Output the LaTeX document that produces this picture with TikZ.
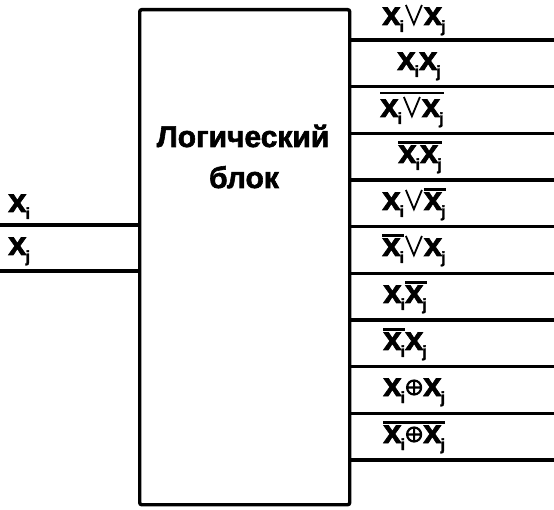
\documentclass[tikz,border=0pt]{standalone}
\usepackage{fontspec}
\setmainfont{Liberation Sans}[BoldFeatures={FakeBold=2}]
\newcommand\ovl[1]{\vbox{\hrule height 2.6pt\kern 1.6pt\hbox{#1}}}
\newcommand\Xs[1]{x\kern-1pt\raisebox{-7pt}{\fontsize{16}{16}\selectfont #1}}
\newcommand\Or{\kern1pt\tikz[baseline=0pt,x=1pt,y=1pt]\draw[line width=1.8pt,line join=miter] (0,20)--(8,0.8)--(16,20);\kern1pt}
\newcommand\Xo{\kern1pt\tikz[baseline=0pt,x=1pt,y=1pt]{\draw[line width=2.2pt] (7.5,8.5) circle (7) (0.5,8.5)--(14.5,8.5) (7.5,1.5)--(7.5,15.5);}\kern1pt}
\tikzset{
  wire/.style={line width=3.4pt},
  lbl/.style={anchor=base west, inner sep=0pt, font=\fontsize{33}{33}\bfseries\selectfont},
  title/.style={anchor=base, inner sep=0pt, font=\fontsize{30}{30}\bfseries\selectfont}
}
\begin{document}
\begin{tikzpicture}[x=1pt,y=-1pt]
\useasboundingbox (0,0) rectangle (554,510);
\node[draw, line width=3.4pt, rounded corners=2pt, minimum width=210pt, minimum height=495pt, anchor=north west, inner sep=0pt] (blk) at (138,8) {};
\node[title] (t1) at (243,147) {Логический};
\node[title] (t2) at (244,188) {блок};
% inputs
\coordinate (i1) at (0,225);
\coordinate (i2) at (0,271);
\draw[wire] (i1) -- (blk.west |- i1);
\draw[wire] (i2) -- (blk.west |- i2);
\node[lbl] (li1) at (8,212) {\Xs{i}};
\node[lbl] (li2) at (8,255) {\Xs{j}};
% outputs
\foreach \k in {0,...,9} {
  \coordinate (o\k) at (554,{40+46.67*\k});
  \draw[wire] (blk.east |- o\k) -- (o\k);
}
\node[lbl] (l0) at (382,25) {\Xs{i}\Or\Xs{j}};
\node[lbl] (l1) at (397,70) {\Xs{i}\Xs{j}};
\node[lbl] (l2) at (380,117) {\ovl{\Xs{i}\Or\Xs{j}}};
\node[lbl] (l3) at (398,163) {\ovl{\Xs{i}\Xs{j}}};
\node[lbl] (l4) at (382,210) {\Xs{i}\Or\ovl{\Xs{j}}};
\node[lbl] (l5) at (382,256) {\ovl{\Xs{i}}\Or\Xs{j}};
\node[lbl] (l6) at (383,303) {\Xs{i}\ovl{\Xs{j}}};
\node[lbl] (l7) at (383,350) {\ovl{\Xs{i}}\Xs{j}};
\node[lbl] (l8) at (383,396) {\Xs{i}\Xo\Xs{j}};
\node[lbl] (l9) at (383,443) {\ovl{\Xs{i}\Xo\Xs{j}}};
\end{tikzpicture}
\end{document}
